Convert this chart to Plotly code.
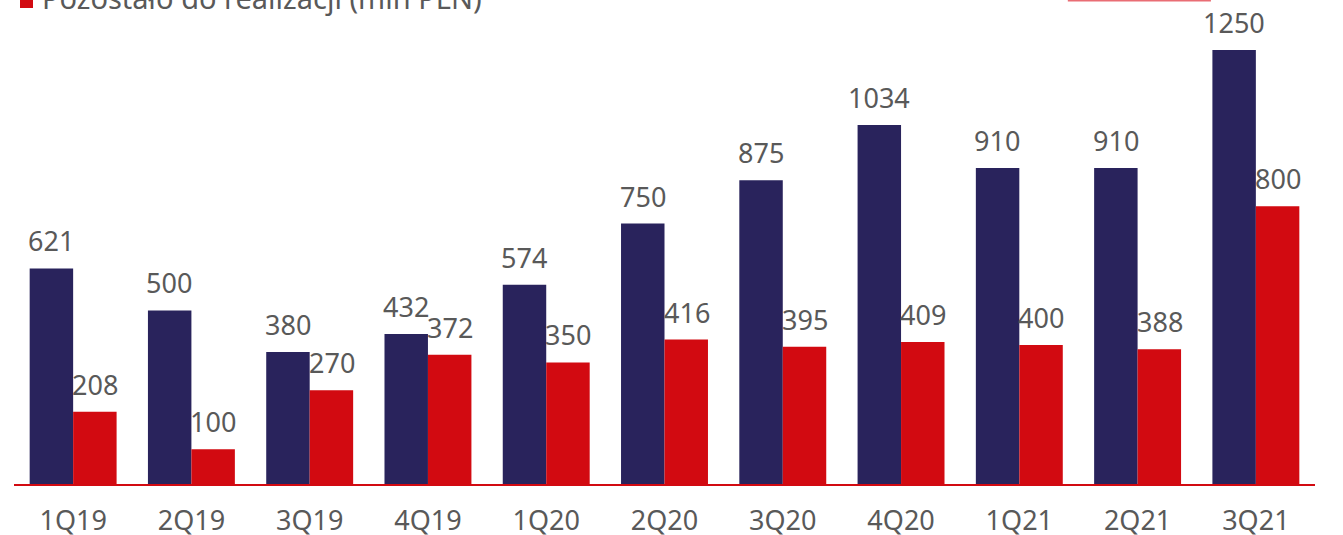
import plotly.graph_objects as go

categories = ["1Q19", "2Q19", "3Q19", "4Q19", "1Q20", "2Q20", "3Q20", "4Q20", "1Q21", "2Q21", "3Q21"]
navy_values = [621, 500, 380, 432, 574, 750, 875, 1034, 910, 910, 1250]
red_values = [208, 100, 270, 372, 350, 416, 395, 409, 400, 388, 800]
legend_label = "Pozostało do realizacji (mln PLN)"

NAVY = "#29235C"
RED = "#D20A11"
GREY = "#595959"
FONT = "Noto Sans"

fig = go.Figure()
fig.add_trace(go.Bar(x=categories, y=navy_values, marker=dict(color=NAVY, line=dict(width=0)),
                     name="Navy", showlegend=False))
fig.add_trace(go.Bar(x=categories, y=red_values, marker=dict(color=RED, line=dict(width=0)),
                     name=legend_label, showlegend=False))

annotations = []
for c, v in zip(categories, navy_values):
    annotations.append(dict(x=c, y=v, xref="x", yref="y", text=str(v), showarrow=False,
                            xshift=-22, yanchor="bottom", yshift=7,
                            font=dict(family=FONT, size=27, color=GREY)))
for c, v in zip(categories, red_values):
    annotations.append(dict(x=c, y=v, xref="x", yref="y", text=str(v), showarrow=False,
                            xshift=22, yanchor="bottom", yshift=7,
                            font=dict(family=FONT, size=27, color=GREY)))
annotations.append(dict(x=0, y=1, xref="paper", yref="paper", xanchor="left", yanchor="middle",
                        xshift=26, yshift=3, showarrow=False,
                        text=legend_label,
                        font=dict(family=FONT, size=29, color=GREY)))

# legend swatch (partially cut at top as in the reference)
fig.add_shape(type="rect", xref="paper", yref="paper",
              xsizemode="pixel", ysizemode="pixel", xanchor=0, yanchor=1,
              x0=6, x1=19, y0=-8, y1=5, fillcolor=RED, line=dict(width=0))

fig.add_shape(type="line", xref="paper", yref="paper", x0=0.81, x1=0.92, y0=1.0, y1=1.0,
              line=dict(color="rgba(226,60,70,0.75)", width=3))

fig.update_layout(
    width=1343, height=535,
    margin=dict(l=14, r=28, t=0, b=51, autoexpand=False),
    plot_bgcolor="white", paper_bgcolor="white",
    barmode="group", bargap=0.265, bargroupgap=0,
    annotations=annotations,
    xaxis=dict(showline=True, linecolor=RED, linewidth=2, ticks="", ticklabelstandoff=12,
               automargin=False,
               tickfont=dict(family=FONT, size=27, color=GREY), showgrid=False),
    yaxis=dict(range=[0, 1394], visible=False, showgrid=False, automargin=False),
)

fig.write_html("out.html")
